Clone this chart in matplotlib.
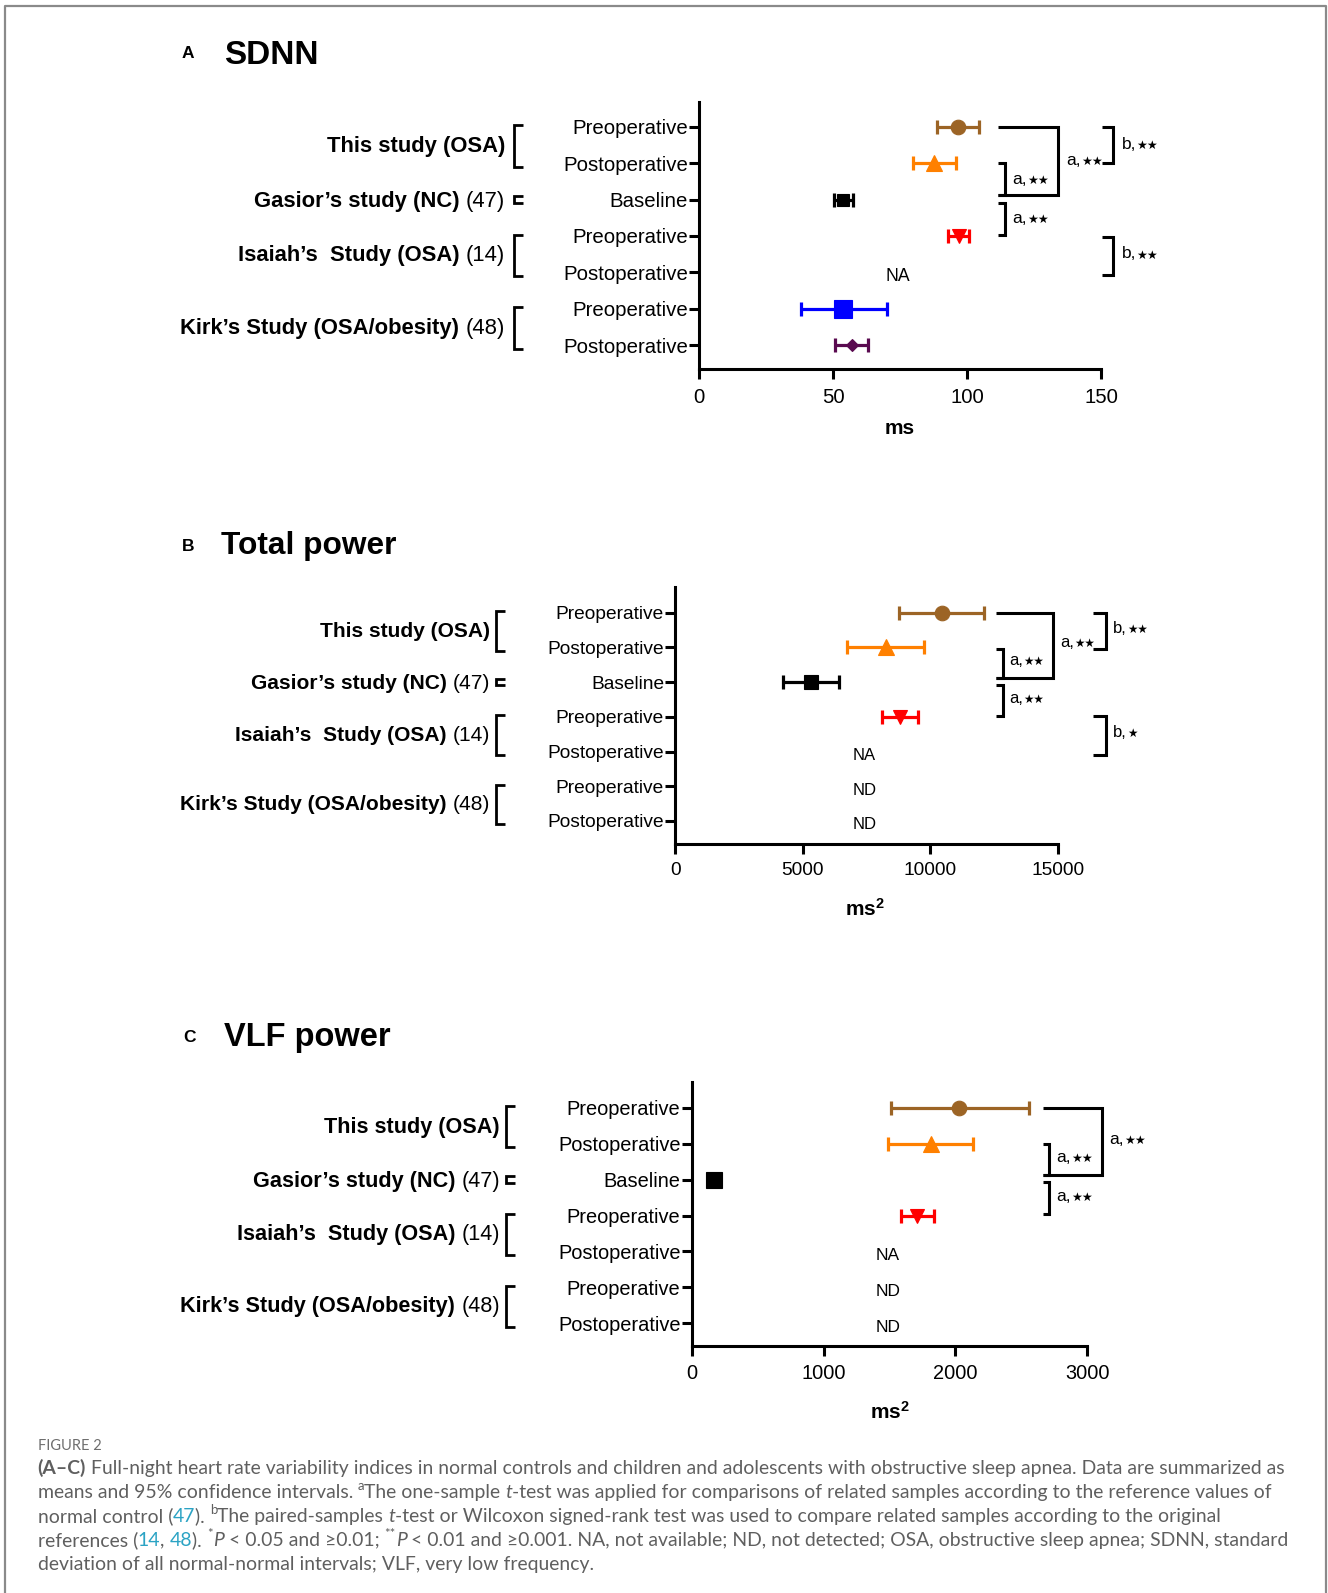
import matplotlib
matplotlib.use("Agg")
import numpy as np
import matplotlib.pyplot as plt
from matplotlib.lines import Line2D
from matplotlib.transforms import (IdentityTransform, blended_transform_factory,
                                   offset_copy)

plt.rcParams["font.family"] = ["Liberation Sans", "DejaVu Sans"]
plt.rcParams["mathtext.fontset"] = "custom"
plt.rcParams["mathtext.rm"] = "Liberation Sans"
plt.rcParams["mathtext.bf"] = "Liberation Sans:bold"

W, H, DPI = 1328, 1593, 100

# ---------------------------------------------------------------- data
row_labels = ["Preoperative", "Postoperative", "Baseline", "Preoperative",
              "Postoperative", "Preoperative", "Postoperative"]
group_names = ["This study (OSA)", "Gasior’s study (NC)",
               "Isaiah’s  Study (OSA)", "Kirk’s Study (OSA/obesity)"]
group_refs = ["", "(47)", "(14)", "(48)"]
group_rows = [(1, 2), (3, 3), (4, 5), (6, 7)]

row_colors = ["#9C6425", "#FF8000", "#000000", "#FF0000",
              "#000000", "#0000FF", "#5A0A50"]
row_markers = ["o", "^", "s", "v", None, "s", "D"]

nan = np.nan
# SDNN (ms): mean and 95% CI
sdnn_mean = [96.5, 87.7, 53.9, 96.9, nan, 53.9, 57.0]
sdnn_lo = [88.7, 80.0, 50.4, 93.0, nan, 37.9, 50.7]
sdnn_hi = [104.5, 95.8, 57.3, 100.7, nan, 70.3, 63.2]
sdnn_missing = ["", "", "", "", "NA", "", ""]

# Total power (ms^2)
tp_mean = [10450, 8250, 5330, 8820, nan, nan, nan]
tp_lo = [8780, 6720, 4240, 8100, nan, nan, nan]
tp_hi = [12110, 9770, 6420, 9530, nan, nan, nan]
tp_missing = ["", "", "", "", "NA", "ND", "ND"]

# VLF power (ms^2)
vlf_mean = [2030, 1815, 170, 1711, nan, nan, nan]
vlf_lo = [1509, 1491, 155, 1588, nan, nan, nan]
vlf_hi = [2558, 2131, 185, 1838, nan, nan, nan]
vlf_missing = ["", "", "", "", "NA", "ND", "ND"]

STAR = "★"

fig = plt.figure(figsize=(W / DPI, H / DPI), dpi=DPI)
fig.patch.set_facecolor("white")
renderer = fig.canvas.get_renderer()
PIX = IdentityTransform()


def advance(s, **kw):
    """Horizontal advance of a string in display pixels."""
    t1 = fig.text(0, 0, "|" + s + "|", **kw)
    t2 = fig.text(0, 0, "||", **kw)
    w = t1.get_window_extent(renderer).width - t2.get_window_extent(renderer).width
    t1.remove()
    t2.remove()
    return w


def ptext(x, y, s, **kw):
    """Text placed in pixel coordinates measured from the top-left corner."""
    return fig.text(x, H - y, s, transform=PIX, **kw)


def sig_label(ax, x, y, letter, nstars, fs):
    """Significance tag: letter and comma followed by small star glyphs."""
    drop = 0.33 * fs * DPI / 72
    t1 = offset_copy(ax.transData, fig=fig, x=0, y=-drop, units="dots")
    ax.text(x, y, letter + ",", transform=t1, ha="left", va="baseline",
            fontsize=fs)
    off = advance(letter + ",", fontsize=fs) + 0.5
    t2 = offset_copy(ax.transData, fig=fig, x=off, y=-drop, units="dots")
    ax.text(x, y, STAR * nstars, transform=t2, ha="left", va="baseline",
            fontsize=fs * 0.7, family=["DejaVu Sans"])


def draw_panel(spec):
    x0, x1, yt, yb = spec["box"]
    ax = fig.add_axes([x0 / W, 1 - yb / H, (x1 - x0) / W, (yb - yt) / H])
    ax.set_xlim(0, spec["xmax"])
    ax.set_ylim(*spec["ylim"])
    rows = np.arange(1, 8)

    mean, lo, hi = spec["mean"], spec["lo"], spec["hi"]
    for i, r in enumerate(rows):
        if np.isnan(mean[i]):
            if spec["missing"][i]:
                ax.text(spec["na_x"], r + 0.11, spec["missing"][i], ha="center",
                        va="center", fontsize=spec["na_fs"])
            continue
        ax.errorbar(mean[i], r, xerr=[[mean[i] - lo[i]], [hi[i] - mean[i]]],
                    fmt="none", ecolor=row_colors[i], elinewidth=2.3,
                    capsize=spec["cap"], capthick=2.3, zorder=3, clip_on=False)
        ax.plot(mean[i], r, marker=row_markers[i], ms=spec["ms"][i],
                color=row_colors[i], mec=row_colors[i], mew=0.8, ls="none",
                zorder=4, clip_on=False)

    # significance brackets
    for bx0, bx1, by0, by1 in spec["brackets"]:
        ax.plot([bx0, bx1, bx1, bx0], [by0, by0, by1, by1], color="black",
                lw=2.2, clip_on=False, solid_joinstyle="miter",
                solid_capstyle="butt")
    for tx, ty, letter, n in spec["labels"]:
        sig_label(ax, tx, ty, letter, n, spec["ann_fs"])

    # axes styling
    for side in ("top", "right"):
        ax.spines[side].set_visible(False)
    for side in ("left", "bottom"):
        ax.spines[side].set_linewidth(2.2)
    ax.set_yticks(rows)
    ax.set_yticklabels(row_labels)
    ax.set_xticks(spec["xticks"])
    ax.set_xticklabels([str(v) for v in spec["xticks"]])
    ax.tick_params(axis="y", direction="out", length=7, width=2.2, pad=1,
                   labelsize=spec["tick_fs"])
    ax.tick_params(axis="x", direction="out", length=7, width=2.2, pad=6.3,
                   labelsize=spec["tick_fs"])

    # study group labels with side brackets
    blend = blended_transform_factory(PIX, ax.transData)
    R = spec["group_right"]
    gx0, gx1 = spec["brk_x"]
    gfs = spec["group_fs"]
    for name, ref, (r0, r1) in zip(group_names, group_refs, group_rows):
        ymid = (r0 + r1) / 2 + 0.04
        xr = R
        if ref:
            ax.text(xr, ymid, ref, transform=blend, ha="right", va="center",
                    fontsize=gfs)
            xr -= advance(ref, fontsize=gfs) + advance(" ", fontsize=gfs)
        ax.text(xr, ymid, name, transform=blend, ha="right", va="center",
                fontsize=gfs, fontweight="bold")
        if r0 == r1:
            ya, yb2 = r0 - 0.09, r0 + 0.09
        else:
            ya, yb2 = r0 - 0.04, r1 + 0.1
        ax.plot([gx1, gx0, gx0, gx1], [ya, ya, yb2, yb2], transform=blend,
                color="black", lw=2.0, clip_on=False, solid_joinstyle="miter",
                solid_capstyle="butt")

    # panel letter, title and unit label
    lt, lx, ly, title, tx, ty = spec["title"]
    ptext(lx, ly, lt, ha="center", va="center", fontsize=12.5, fontweight="bold")
    ptext(tx, ty, title, ha="left", va="center", fontsize=spec["title_fs"],
          fontweight="bold")
    xs, xx, xy = spec["xlabel"]
    ptext(xx, xy, xs, ha="center", va="center", fontsize=15, fontweight="bold")
    return ax


panels = [
    dict(box=(699, 1101, 101.7, 369.3), xmax=150, xticks=[0, 50, 100, 150],
         ylim=(7.66, 0.314), mean=sdnn_mean, lo=sdnn_lo, hi=sdnn_hi,
         missing=sdnn_missing, na_x=74.3, na_fs=12.7, cap=5.3,
         ms=[10.5, 11, 8.5, 9.5, 0, 13.5, 6.5], tick_fs=14.7,
         group_right=505, brk_x=(513.5, 522.5), group_fs=15.8,
         title=("A", 188, 53, "SDNN", 224, 56), title_fs=24,
         xlabel=("ms", 900, 428), ann_fs=12.5,
         brackets=[(111.7, 134.1, 1.0, 2.875), (111.7, 114.2, 2.0, 2.875),
                   (111.7, 114.2, 3.1, 3.97), (150.2, 154.6, 1.0, 2.0),
                   (150.2, 154.6, 4.04, 5.07)],
         labels=[(137.0, 1.9, "a", 2), (116.9, 2.42, "a", 2),
                 (116.9, 3.49, "a", 2), (157.7, 1.45, "b", 2),
                 (157.7, 4.46, "b", 2)]),
    dict(box=(675.2, 1057.7, 587.3, 843.5), xmax=15000,
         xticks=[0, 5000, 10000, 15000], ylim=(7.65, 0.27),
         mean=tp_mean, lo=tp_lo, hi=tp_hi, missing=tp_missing, na_x=7416,
         na_fs=12, cap=5.3, ms=[10.5, 11, 10.5, 9.5, 0, 0, 0], tick_fs=13.8,
         group_right=489.7, brk_x=(496, 505), group_fs=15.1,
         title=("B", 188, 546.6, "Total power", 221, 545.6), title_fs=22.8,
         xlabel=(r"$\mathbf{ms^2}$", 865, 909), ann_fs=12,
         brackets=[(12580, 14804, 1.02, 2.89), (12580, 12843, 2.04, 2.89),
                   (12580, 12843, 3.08, 3.98), (16396, 16894, 1.02, 2.04),
                   (16396, 16894, 3.98, 5.1)],
         labels=[(15090, 1.84, "a", 2), (13102, 2.36, "a", 2),
                 (13102, 3.44, "a", 2), (17180, 1.42, "b", 2),
                 (17180, 4.43, "b", 1)]),
    dict(box=(691.6, 1087.3, 1081.7, 1346), xmax=3000,
         xticks=[0, 1000, 2000, 3000], ylim=(7.63, 0.276),
         mean=vlf_mean, lo=vlf_lo, hi=vlf_hi, missing=vlf_missing, na_x=1489,
         na_fs=12.5, cap=5.3, ms=[10.5, 11, 11, 9.5, 0, 0, 0], tick_fs=14.4,
         group_right=500, brk_x=(506, 515), group_fs=15.6,
         title=("C", 189, 1037.3, "VLF power", 224, 1037.3), title_fs=23.5,
         xlabel=(r"$\mathbf{ms^2}$", 889.5, 1412), ann_fs=12.5,
         brackets=[(2662, 3109, 1.0, 2.87), (2662, 2710, 2.01, 2.87),
                   (2662, 2710, 3.06, 3.96)],
         labels=[(3165, 1.85, "a", 2), (2768, 2.36, "a", 2),
                 (2768, 3.43, "a", 2)]),
]

for spec in panels:
    draw_panel(spec)

# ---------------------------------------------------------------- caption
CAP_FONT = ["Lato", "DejaVu Sans"]
CAP_GRAY = "#5f5f5f"
LINK = "#2BA3C4"

caption = [
    [("(A–C)", "b"), (" Full-night heart rate variability indices in normal controls and children and adolescents with obstructive sleep apnea. Data are summarized as", "n")],
    [("means and 95% confidence intervals. ", "n"), ("a", "sup"), ("The one-sample ", "n"), ("t", "i"),
     ("-test was applied for comparisons of related samples according to the reference values of", "n")],
    [("normal control (", "n"), ("47", "link"), ("). ", "n"), ("b", "sup"), ("The paired-samples ", "n"), ("t", "i"),
     ("-test or Wilcoxon signed-rank test was used to compare related samples according to the original", "n")],
    [("references (", "n"), ("14", "link"), (", ", "n"), ("48", "link"), ("). ", "n"), ("*", "sup"), ("P", "i"),
     (" < 0.05 and ≥0.01; ", "n"), ("**", "sup"), ("P", "i"),
     (" < 0.01 and ≥0.001. NA, not available; ND, not detected; OSA, obstructive sleep apnea; SDNN, standard", "n")],
    [("deviation of all normal-normal intervals; VLF, very low frequency.", "n")],
]


def piece_style(style, size):
    kw = dict(fontsize=size, color=CAP_GRAY, family=CAP_FONT)
    dy = 0.0
    if style == "b":
        kw["fontweight"] = "bold"
    elif style == "i":
        kw["fontstyle"] = "italic"
    elif style == "link":
        kw["color"] = LINK
    elif style == "sup":
        kw["fontsize"] = size * 0.68
        dy = size * 0.42 * DPI / 72
    return kw, dy


def line_width(pieces, size):
    return sum(advance(t, **piece_style(s, size)[0]) for t, s in pieces)


def rich_line(x, y_base, pieces, size):
    for text, style in pieces:
        kw, dy = piece_style(style, size)
        fig.text(x, H - y_base + dy, text, transform=PIX, ha="left",
                 va="baseline", **kw)
        x += advance(text, **kw)


cap_size = 10 * 1245 / line_width(caption[0], 10)
fig_size = 10 * 63 / advance("FIGURE 2", fontsize=10, family=CAP_FONT)

ptext(37.6, 1450, "FIGURE 2", ha="left", va="baseline", fontsize=fig_size,
      color="#6e6e6e", family=CAP_FONT)
for k, pieces in enumerate(caption):
    rich_line(37.6, 1474 + 23.9 * k, pieces, cap_size)

# outer frame (open at the bottom)
fig.add_artist(Line2D([4.5, 4.5, 1326, 1326], [0, H - 5.5, H - 5.5, 0],
                      transform=PIX, color="#8a8a8a", lw=1.6))

fig.savefig("out.png", dpi=DPI)
